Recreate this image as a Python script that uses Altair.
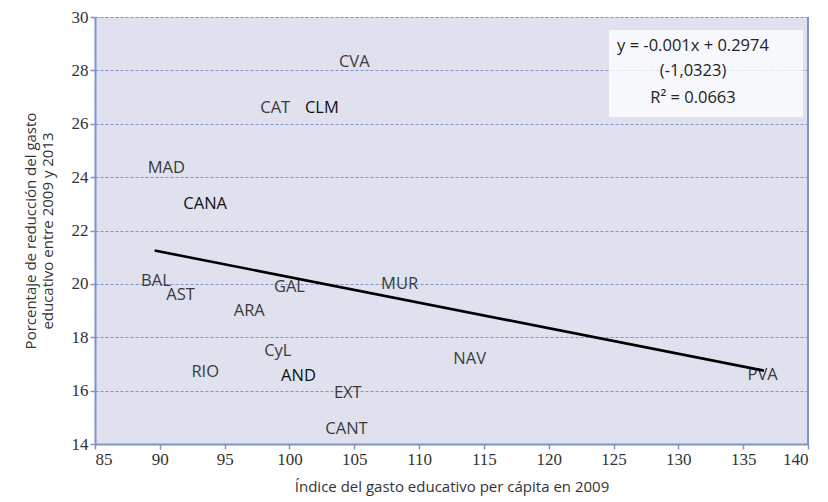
import altair as alt
import pandas as pd

regions = ["CVA", "CAT", "CLM", "MAD", "CANA", "BAL", "AST", "GAL", "MUR", "ARA",
           "CyL", "RIO", "AND", "EXT", "CANT", "NAV", "PVA"]
gasto_2009 = [105.0, 98.9, 102.5, 90.5, 93.5, 89.7, 91.6, 100.0, 108.5, 96.9,
              99.1, 93.5, 100.7, 104.5, 104.4, 113.9, 136.5]
reduccion = [28.3, 26.6, 26.6, 24.35, 23.0, 20.1, 19.6, 19.9, 20.0, 19.0,
             17.5, 16.7, 16.55, 15.9, 14.55, 17.2, 16.6]
destacado = [False, False, True, False, True, False, False, False, False, False,
             False, False, True, False, False, False, False]

trend_x = [89.6, 136.6]
trend_y = [21.25, 16.75]

eq_lines = ["y = -0.001x + 0.2974", "(-1,0323)", "R² = 0.0663"]

df = pd.DataFrame({"region": regions, "x": gasto_2009, "y": reduccion, "bold": destacado})
trend = pd.DataFrame({"x": trend_x, "y": trend_y})

W, H = 713, 427
blue = "#7f93c9"
FONT = "Open Sans"

xs = alt.Scale(domain=[85, 140], nice=False, zero=False)
ys = alt.Scale(domain=[14, 30], nice=False, zero=False)

base = alt.Chart(df)

labels = base.mark_text(font=FONT, fontSize=16.5, align="center", baseline="middle").encode(
    x=alt.X("x:Q", scale=xs,
            axis=alt.Axis(title="Índice del gasto educativo per cápita en 2009",
                          values=list(range(85, 141, 5)), grid=False)),
    y=alt.Y("y:Q", scale=ys,
            axis=alt.Axis(title=["Porcentaje de reducción del gasto", "educativo entre 2009 y 2013"],
                          values=list(range(14, 31, 2)), grid=True)),
    text="region:N",
    color=alt.condition(alt.datum.bold, alt.value("#111111"), alt.value("#3a3a3a")),
)

line = alt.Chart(trend).mark_line(color="#000000", strokeWidth=2.6).encode(
    x=alt.X("x:Q", scale=xs), y=alt.Y("y:Q", scale=ys)
)

right_border = alt.Chart(pd.DataFrame({"x": [140], "y": [14], "y2": [30]})).mark_rule(
    color=blue, strokeWidth=2).encode(
    x=alt.X("x:Q", scale=xs), y=alt.Y("y:Q", scale=ys), y2="y2:Q")

box = alt.Chart(pd.DataFrame({"a": [0]})).mark_rect(
    fill="white", opacity=0.75).encode(
    x=alt.value(514), x2=alt.value(708), y=alt.value(13), y2=alt.value(100))

eq_df = pd.DataFrame({"t": eq_lines, "py": [29, 54, 81]})
eq = alt.Chart(eq_df).mark_text(font=FONT, fontSize=16.5, color="#222222",
                                 align="center", baseline="middle").encode(
    x=alt.value(598), y=alt.Y("py:Q", scale=None), text="t:N")

chart = alt.layer(labels, line, right_border, box, eq).properties(
    width=W, height=H,
    background="white",
    autosize=alt.AutoSizeParams(type="none"),
    padding={"left": 95, "top": 17, "right": 20, "bottom": 58},
).configure_view(fill="#dfe2ee", stroke=None).configure_axis(
    domainColor=blue, domainWidth=2, tickColor=blue, tickSize=5, tickWidth=1.5,
    gridColor=blue, gridDash=[3, 2], gridWidth=1,
    labelFont="Liberation Sans Narrow", labelFontSize=17, labelColor="#333333",
    titleFont=FONT, titleFontSize=15, titleFontWeight="normal", titleColor="#333333",
    labelPadding=2,
).configure_axisX(titlePadding=12).configure_axisY(titlePadding=16)

chart.save("out.html", embed_options={"renderer": "svg", "actions": False})
